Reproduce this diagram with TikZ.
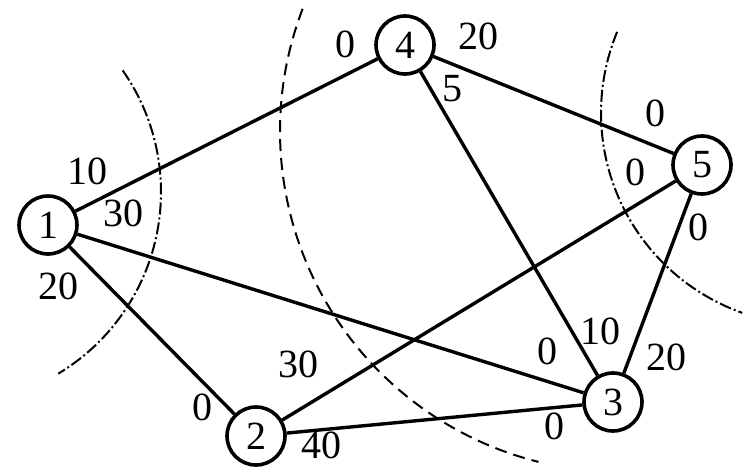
\documentclass[tikz,border=0pt]{standalone}
\usepackage{fontspec}
\setmainfont{Liberation Serif}
\begin{document}
\begin{tikzpicture}[x=1pt,y=1pt,
  vert/.style={circle,draw,line width=3.6pt,minimum size=58pt,inner sep=0pt,fill=white,font=\fontsize{40}{40}\selectfont},
  wlab/.style={inner sep=0pt,font=\fontsize{40}{40}\selectfont},
  edge/.style={line width=3.4pt},
  dashdot/.style={line width=2pt,dash pattern=on 12pt off 3pt on 2pt off 3pt},
  dashedarc/.style={line width=2pt,dash pattern=on 12pt off 7pt}]
\useasboundingbox (0,0) rectangle (743,467);
\fill[white] (0,0) rectangle (743,467);
% cut arcs
\draw[dashdot] ([shift={(35:212)}]-51,275) arc[start angle=35,end angle=-59,radius=212];
\draw[dashedarc] ([shift={(159:341)}]621,336) arc[start angle=159,end angle=256,radius=341];
\draw[dashdot] ([shift={(157.5:212)}]813,354) arc[start angle=157.5,end angle=250.5,radius=212];
% vertices
\node[vert] (n1) at (48,242) {1};
\node[vert] (n2) at (256,31) {2};
\node[vert] (n3) at (613,65) {3};
\node[vert] (n4) at (405,422) {4};
\node[vert] (n5) at (702,302) {5};
% edges
\draw[edge] (n1) -- (n4);
\draw[edge] (n1) -- (n3);
\draw[edge] (n1) -- (n2);
\draw[edge] (n2) -- (n5);
\draw[edge] (n2) -- (n3);
\draw[edge] (n4) -- (n5);
\draw[edge] (n4) -- (n3);
\draw[edge] (n5) -- (n3);
% labels
\node[wlab] (l1) at (87,296) {10};
\node[wlab] (l2) at (123,254) {30};
\node[wlab] (l3) at (58,181) {20};
\node[wlab] (l4) at (345,423) {0};
\node[wlab] (l5) at (478,431) {20};
\node[wlab] (l6) at (452,378) {5};
\node[wlab] (l7) at (655,354) {0};
\node[wlab] (l8) at (635,295) {0};
\node[wlab] (l9) at (698,240) {0};
\node[wlab] (l10) at (600,136) {10};
\node[wlab] (l11) at (547,116) {0};
\node[wlab] (l12) at (666,110) {20};
\node[wlab] (l13) at (554,41) {0};
\node[wlab] (l14) at (298,103) {30};
\node[wlab] (l15) at (202,60) {0};
\node[wlab] (l16) at (321,22) {40};
\end{tikzpicture}
\end{document}
